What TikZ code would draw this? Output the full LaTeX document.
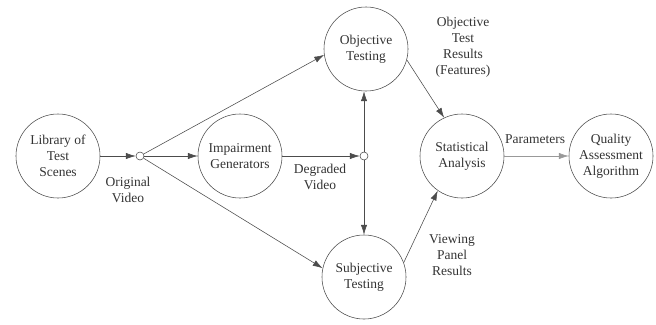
\documentclass[tikz,border=0pt]{standalone}
\usepackage{fontspec}
\setmainfont{Liberation Serif}
\usetikzlibrary{arrows.meta}

\tikzset{
  blk/.style={circle,draw=black!70,minimum size=2.1cm,inner sep=0pt,align=center,text=black!80},
  jn/.style={circle,draw=black!70,fill=white,minimum size=0.2cm,inner sep=0pt},
  lbl/.style={align=center,text=black!80},
  arr/.style={draw=black!70,-{Latex[length=7pt,width=4.5pt]}}
}

\begin{document}
\begin{tikzpicture}[x=0.025cm,y=-0.025cm,font=\fontsize{9.6}{11.3}\selectfont]
\useasboundingbox (0,0) rectangle (656,324);
\node (1) at (58,156) [blk] {Library of\\Test\\Scenes};
\node (2) at (140,156) [jn] {};
\node (3) at (240,156) [blk] {Impairment\\Generators};
\node (4) at (364,156) [jn] {};
\node (5) at (366,49) [blk] {Objective\\Testing};
\node (6) at (364,277) [blk] {Subjective\\Testing};
\node (7) at (462,156) [blk] {Statistical\\Analysis};
\node (8) at (611,156) [blk] {Quality\\Assessment\\Algorithm};
% labels on the connections
\node (9) at (128,190) [lbl] {Original\\Video};
\node (10) at (320,177) [lbl] {Degraded\\Video};
\node (11) at (463,47) [lbl] {Objective\\Test\\Results\\(Features)};
\node (12) at (452,255) [lbl] {Viewing\\Panel\\Results};
\node (13) at (535,139) [lbl] {Parameters};
\draw[arr] (1) -- (2);
\draw[arr] (2) -- (3);
\draw[arr] (3) -- (4);
\draw[arr] (2) -- (5.188);
\draw[arr] (2) -- (6.168);
\draw[arr] (4) -- (4 |- 5.south);
\draw[arr] (4) -- (6);
\draw[arr] (5.-15) -- (7.115);
\draw[arr] (6.20) -- (7.235);
\draw[arr,draw=black!40] (7) -- (8);
\end{tikzpicture}
\end{document}
